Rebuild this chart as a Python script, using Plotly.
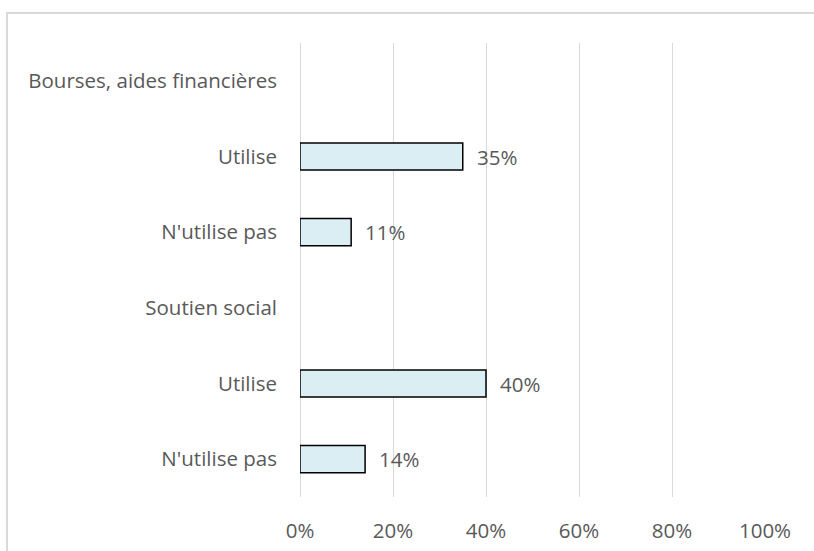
import plotly.graph_objects as go

# Row labels, top to bottom (group headers carry no bar)
labels = ["Bourses, aides financières", "Utilise", "N'utilise pas",
          "Soutien social", "Utilise", "N'utilise pas"]
values = [None, 35, 11, None, 40, 14]
x_ticks = [0, 20, 40, 60, 80, 100]

positions = list(range(len(labels)))
text_color = "#595959"
grid_color = "#d9d9d9"
font_family = "Open Sans, sans-serif"
font_size = 20.5

fig = go.Figure()
fig.add_trace(go.Bar(
    y=positions,
    x=values,
    orientation="h",
    width=0.36,
    marker=dict(color="#DAEEF3", line=dict(color="#000000", width=1.5)),
    hoverinfo="skip",
    showlegend=False,
))

# Value labels to the right of each bar
for p, v in zip(positions, values):
    if v is None:
        continue
    fig.add_annotation(
        x=v, y=p, xref="x", yref="y",
        text=f"{v}%", showarrow=False,
        xanchor="left", yanchor="middle", xshift=12,
        font=dict(family=font_family, size=font_size, color=text_color),
    )

# Light outer frame of the chart area
fig.add_shape(
    type="rect", xref="paper", yref="paper",
    x0=-0.630, x1=1.3, y0=-0.3, y1=1.066,
    line=dict(color=grid_color, width=2), fillcolor="rgba(0,0,0,0)",
    layer="below",
)

fig.update_layout(
    width=814, height=551,
    margin=dict(l=300, r=49, t=43, b=54),
    paper_bgcolor="white", plot_bgcolor="white",
    font=dict(family=font_family, size=font_size, color=text_color),
    xaxis=dict(
        range=[0, 100], tickvals=x_ticks, ticktext=[f"{t}%" for t in x_ticks],
        showgrid=True, gridcolor=grid_color, gridwidth=1,
        zeroline=True, zerolinecolor=grid_color, zerolinewidth=1,
        showline=False, ticks="", ticklabelstandoff=19, automargin=False,
        tickfont=dict(size=font_size, color=text_color),
        fixedrange=True,
    ),
    yaxis=dict(
        range=[len(labels) - 0.5, -0.5],
        tickvals=positions, ticktext=labels,
        showgrid=False, zeroline=False, showline=False, ticks="",
        ticklabelstandoff=22, automargin=False,
        tickfont=dict(size=font_size, color=text_color),
        fixedrange=True,
    ),
)

fig.write_html("out.html")
